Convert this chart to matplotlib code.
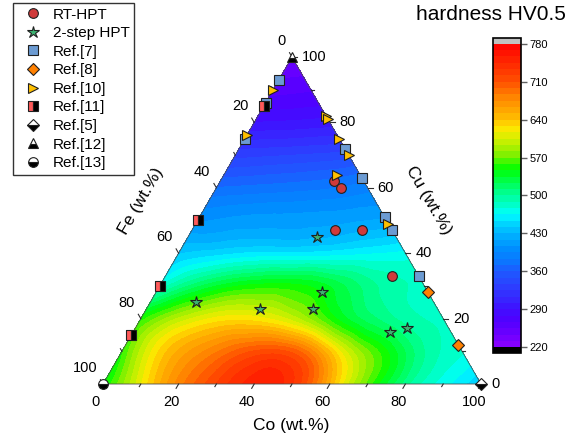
import numpy as np
import matplotlib
matplotlib.use("Agg")
import matplotlib.pyplot as plt
from matplotlib.tri import Triangulation, UniformTriRefiner
from matplotlib.colors import LinearSegmentedColormap

plt.rcParams['font.family'] = ['Liberation Sans', 'DejaVu Sans']

# ---------------- hardness map (HV0.5) on a 10 wt.% grid ----------------
# one row per Cu content (0, 10, ..., 100 wt.%); inside a row Co = 0, 10, ... 100-Cu
grid_cu = [0, 10, 20, 30, 40, 50, 60, 70, 80, 90, 100]
hv_cu00 = [545, 615, 680, 722, 752, 735, 650, 565, 505, 470, 440]
hv_cu10 = [555, 630, 670, 700, 715, 680, 600, 548, 500, 478]
hv_cu20 = [552, 595, 620, 622, 600, 555, 518, 495, 485]
hv_cu30 = [478, 520, 545, 552, 545, 520, 495, 487]
hv_cu40 = [440, 448, 455, 455, 458, 463, 468]
hv_cu50 = [405, 410, 412, 413, 416, 420]
hv_cu60 = [372, 375, 378, 382, 390]
hv_cu70 = [332, 335, 338, 342]
hv_cu80 = [290, 292, 295]
hv_cu90 = [262, 265]
hv_cu100 = [238]
hv_rows = [hv_cu00, hv_cu10, hv_cu20, hv_cu30, hv_cu40, hv_cu50,
           hv_cu60, hv_cu70, hv_cu80, hv_cu90, hv_cu100]

# ---------------- measured / literature compositions (Co, Fe, Cu wt.%) ----------------
rt_co = [30, 33, 38, 45, 60]
rt_fe = [8, 7, 15, 8, 7]
rt_cu = [62, 60, 47, 47, 33]

two_co = [34, 44, 12, 30, 44, 68, 72]
two_fe = [21, 28, 63, 47, 33, 16, 11]
two_cu = [45, 28, 25, 23, 23, 16, 17]

r7_co = [0, 0, 0, 28, 37, 49, 53, 67]
r7_fe = [7, 14, 25, 0, 0, 0, 0, 0]
r7_cu = [93, 86, 75, 72, 63, 51, 47, 33]

r8_co = [72, 88]
r8_fe = [0, 0]
r8_cu = [28, 12]

r10_co = [0, 0, 18, 19, 25, 30, 30, 51]
r10_fe = [10, 24, 0, 0, 0, 0, 6, 0]
r10_cu = [90, 76, 82, 81, 75, 70, 64, 49]

r11_co = [0, 0, 0, 0]
r11_fe = [15, 50, 70, 85]
r11_cu = [85, 50, 30, 15]

r5_co, r5_fe, r5_cu = [100], [0], [0]
r12_co, r12_fe, r12_cu = [0], [0], [100]
r13_co, r13_fe, r13_cu = [0], [100], [0]

cbar_ticks = [220, 290, 360, 430, 500, 570, 640, 710, 780]
axis_major = [0, 20, 40, 60, 80, 100]
axis_minor = [10, 30, 50, 70, 90]

H = np.sqrt(3) / 2


def tern(co, cu):
    co = np.asarray(co, float)
    cu = np.asarray(cu, float)
    return (co + cu / 2) / 100.0, H * cu / 100.0


# ---------------- colour scale ----------------
anchor_vals = [220, 230, 250, 270, 290, 320, 340, 360, 380, 400, 430, 450, 465,
               490, 510, 530, 550, 575, 605, 625, 640, 685, 710, 745, 780]
anchor_cols = ['#8c00ff', '#8000ff', '#6400ff', '#5000ff', '#4010ff', '#3232ff',
               '#2846ff', '#1e5aff', '#0a78ff', '#008cff', '#00b4ff', '#00d8ff',
               '#00ffff', '#00ffb4', '#00ff80', '#00ff40', '#00ff00', '#80f000',
               '#d4f000', '#ffe600', '#ffc000', '#ff8000', '#ff5000', '#ff2800',
               '#ff0000']
lo, hi = 220, 780
cmap = LinearSegmentedColormap.from_list(
    'hv', [((v - lo) / (hi - lo), c) for v, c in zip(anchor_vals, anchor_cols)], N=512)
cmap.set_over('#c0c0c0')
cmap.set_under('#000000')
levels = np.linspace(lo, hi, 49)

# ---------------- figure ----------------
fig = plt.figure(figsize=(5.71, 4.41), dpi=100)
ax = fig.add_axes([103 / 571, 57 / 441, 378 / 571, 327 / 441])
ax.set_xlim(0, 1)
ax.set_ylim(0, H)
ax.set_axis_off()

# grid -> triangulation -> smooth field
pco, pcu, pv = [], [], []
for cu, row in zip(grid_cu, hv_rows):
    for i, v in enumerate(row):
        pco.append(10 * i)
        pcu.append(cu)
        pv.append(v)
gx, gy = tern(pco, pcu)
tri = Triangulation(gx, gy)
refiner = UniformTriRefiner(tri)
tri_f, hv_f = refiner.refine_field(np.asarray(pv, float), subdiv=4)
cs = ax.tricontourf(tri_f, hv_f, levels=levels, cmap=cmap, extend='both', zorder=1)

# triangle outline
ox, oy = tern([0, 100, 0, 0], [0, 0, 100, 0])
ax.plot(ox, oy, color='#505050', lw=0.6, zorder=2, clip_on=False)

# ticks and tick labels
PX = 0.72  # points per pixel
TL_MAJ, TL_MIN = 5 / 378, 3 / 378
tick_kw = dict(color='#303030', lw=0.8, clip_on=False, zorder=2)
lab_kw = dict(textcoords='offset points', fontsize=10.5, annotation_clip=False)
for v in axis_major + axis_minor:
    L = TL_MAJ if v in axis_major else TL_MIN
    # Co (bottom)
    bx, by = tern(v, 0)
    ax.plot([bx, bx - 0.5 * L], [by, by - H * L], **tick_kw)
    # Fe (left)
    lx, ly = tern(0, 100 - v)
    ax.plot([lx, lx - 0.5 * L], [ly, ly + H * L], **tick_kw)
    # Cu (right)
    rx, ry = tern(100 - v, v)
    ax.plot([rx, rx + L], [ry, ry], **tick_kw)
    if v in axis_major:
        ax.annotate(str(v), (bx, by), xytext=(-7 * PX, -18 * PX), ha='center', va='center', **lab_kw)
        ax.annotate(str(v), (lx, ly), xytext=(-6 * PX, 16 * PX), ha='right', va='center', **lab_kw)
        ax.annotate(str(v), (rx, ry), xytext=(10 * PX, 0), ha='left', va='center', **lab_kw)

ax.text(0.4987, -0.111, 'Co (wt.%)', ha='center', va='center', fontsize=12.5)
ax.text(0.1005, 0.484, 'Fe (wt.%)', ha='center', va='center', fontsize=12.5, rotation=60)
ax.text(0.862, 0.487, 'Cu (wt.%)', ha='center', va='center', fontsize=12.5, rotation=-60)

# data markers
mk = dict(ls='none', mec='#202020', mew=0.8, clip_on=False, zorder=5)
series = [
    (rt_co, rt_cu, dict(marker='o', ms=7, mfc='#d03a3a'), 'RT-HPT'),
    (two_co, two_cu, dict(marker='*', ms=9, mfc='#3cb371'), '2-step HPT'),
    (r7_co, r7_cu, dict(marker='s', ms=6.5, mfc='#6c9bd2'), 'Ref.[7]'),
    (r8_co, r8_cu, dict(marker='D', ms=6, mfc='#ff8000'), 'Ref.[8]'),
    (r10_co, r10_cu, dict(marker='>', ms=7.5, mfc='#ffc000'), 'Ref.[10]'),
    (r11_co, r11_cu, dict(marker='s', ms=6.5, mfc='#ff5a5a', fillstyle='left',
                          markerfacecoloralt='black'), 'Ref.[11]'),
    (r5_co, r5_cu, dict(marker='D', ms=6, mfc='black', fillstyle='bottom',
                        markerfacecoloralt='white'), 'Ref.[5]'),
    (r12_co, r12_cu, dict(marker='^', ms=7, mfc='black', fillstyle='bottom',
                          markerfacecoloralt='white'), 'Ref.[12]'),
    (r13_co, r13_cu, dict(marker='o', ms=7, mfc='black', fillstyle='bottom',
                          markerfacecoloralt='white'), 'Ref.[13]'),
]
handles = []
for co, cu, style, name in series:
    x, y = tern(co, cu)
    h, = ax.plot(x, y, label=name, **mk, **style)
    handles.append(h)

leg = fig.legend(handles=handles, loc='upper left', bbox_to_anchor=(13 / 571, 1 - 3 / 441),
                 borderaxespad=0, frameon=True, fancybox=False, edgecolor='black',
                 fontsize=11, handlelength=2.0, handletextpad=0.31, labelspacing=0.3,
                 borderpad=0.3)
leg.get_frame().set_linewidth(1.0)

# colour bar
cax = fig.add_axes([493 / 571, (441 - 353) / 441, 28 / 571, 315 / 441])
cb = fig.colorbar(cs, cax=cax, extend='both', extendrect=True, extendfrac=0.019,
                  ticks=cbar_ticks)
cb.outline.set_linewidth(1.2)
cax.tick_params(direction='out', length=4, width=1, color='#606060', labelsize=8, pad=2)
fig.text(491 / 571, 1 - 14 / 441, 'hardness HV0.5', ha='center', va='center', fontsize=15)

fig.savefig('out.png', dpi=100)
